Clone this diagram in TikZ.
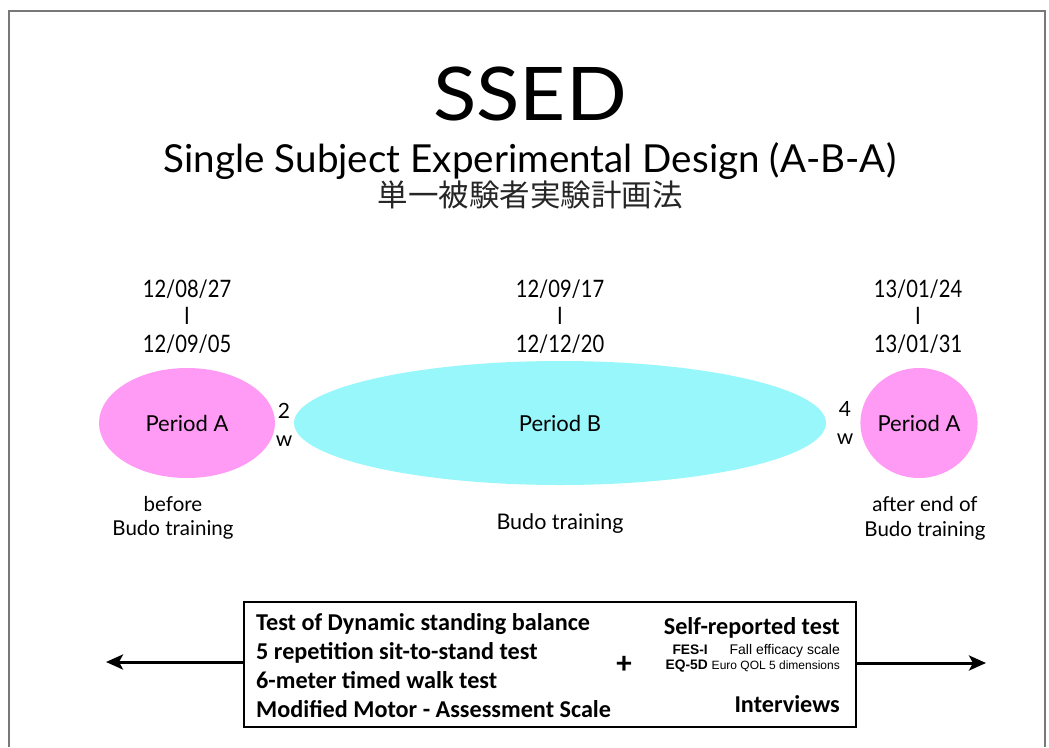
\documentclass[tikz,border=0pt]{standalone}
\usepackage{fontspec}
\setmainfont{Lato}
\newfontfamily\jpfont{Noto Sans CJK JP}
\newfontfamily\calfont{Carlito}
\newfontfamily\arialfont{Liberation Sans}
\newfontfamily\narrowfont[FakeStretch=0.84]{Lato}
\newfontfamily\widefont[FakeStretch=1.08]{Lato}
\usetikzlibrary{shapes.geometric,arrows.meta}
\definecolor{periodA}{RGB}{255,155,245}
\definecolor{periodB}{RGB}{152,247,250}
\definecolor{framegray}{RGB}{120,120,120}

\begin{document}
\begin{tikzpicture}[x=1pt,y=-1pt,
  txt/.style={inner sep=0pt, anchor=base},
  datetxt/.style={txt, font=\narrowfont\fontsize{24}{24}\selectfont},
  phase/.style={ellipse, inner sep=0pt, font=\fontsize{22}{22}\selectfont},
  gaptxt/.style={txt, font=\fontsize{21}{21}\selectfont},
  notetxt/.style={txt, font=\fontsize{20.5}{20.5}\selectfont},
  testtxt/.style={txt, anchor=base west, font=\calfont\bfseries\fontsize{24.2}{24.2}\selectfont},
  righttxt/.style={txt, anchor=base east, font=\calfont\bfseries\fontsize{24.2}{24.2}\selectfont},
  smallbold/.style={txt, anchor=base east, font=\arialfont\bfseries\fontsize{13.8}{13.8}\selectfont},
  smalltxt/.style={txt, anchor=base east, font=\arialfont\fontsize{14}{14}\selectfont},
  arrowline/.style={line width=3pt, -{Stealth[length=17pt,width=15pt,inset=4pt]}}
]
\useasboundingbox (0,0) rectangle (1049,747);

% page frame, open at the bottom
\draw[framegray, line width=1.3pt] (9,747) -- (9,11) -- (1045,11) -- (1045,747);

% titles
\node[txt] (title) at (530,120) {\widefont\fontsize{74}{74}\selectfont SSED};
\node[txt] (subtitle) at (530,172) {\fontsize{38.6}{38.6}\selectfont Single Subject Experimental Design (A-B-A)};
\node[inner sep=0pt, text=black!85] (jp) at (530,195) {\jpfont\fontsize{30.5}{30.5}\selectfont 単一被験者実験計画法};

% date ranges
\node[datetxt] (d1a) at (187,297) {12/08/27};
\node[datetxt] (d1b) at (187,324) {I};
\node[datetxt] (d1c) at (187,352) {12/09/05};
\node[datetxt] (d2a) at (560,297) {12/09/17};
\node[datetxt] (d2b) at (560,324) {I};
\node[datetxt] (d2c) at (560,352) {12/12/20};
\node[datetxt] (d3a) at (918,297) {13/01/24};
\node[datetxt] (d3b) at (918,324) {I};
\node[datetxt] (d3c) at (918,352) {13/01/31};

% periods
\node[phase, fill=periodA, minimum width=176pt, minimum height=110pt] (pa1) at (187,423) {Period A};
\node[phase, fill=periodB, minimum width=532pt, minimum height=124pt] (pb) at (560,423) {Period B};
\node[phase, fill=periodA, minimum width=104pt, minimum height=110pt] (pa2) at (919,423) {Period A};

% gaps between periods
\node[gaptxt] (g1n) at (284,418) {2};
\node[gaptxt] (g1w) at (284,446) {w};
\node[gaptxt] (g2n) at (845,416) {4};
\node[gaptxt] (g2w) at (845,444) {w};

% descriptions under the periods
\node[notetxt] (n1a) at (173,511) {before};
\node[notetxt] (n1b) at (173,535) {Budo training};
\node[notetxt, font=\fontsize{21.5}{21.5}\selectfont] (n2) at (560,529) {Budo training};
\node[notetxt] (n3a) at (925,511) {after end of};
\node[notetxt] (n3b) at (925,536) {Budo training};

% measurement box
\node[draw, line width=1.8pt, minimum width=612pt, minimum height=125pt, inner sep=0pt] (box) at (550,664.5) {};
\node[testtxt] (t1) at (256,630) {Test of Dynamic standing balance};
\node[testtxt] (t2) at (256,659) {5 repetition sit-to-stand test};
\node[testtxt] (t3) at (256,688) {6-meter timed walk test};
\node[testtxt] (t4) at (256,717) {Modified Motor - Assessment Scale};
\node[inner sep=0pt, font=\calfont\bfseries\fontsize{31}{31}\selectfont] (plus) at (624,665) {+};
\node[righttxt] (s1) at (840,634) {Self-reported test};
\node[smalltxt] (s2) at (840,654) {Fall efficacy scale};
\node[smallbold] (s2b) at (708,654) {FES-I};
\node[smalltxt, font=\arialfont\fontsize{12}{12}\selectfont] (s3) at (840,669) {Euro QOL 5 dimensions};
\node[smallbold] (s3b) at (708,669) {EQ-5D};
\node[righttxt] (s4) at (840,712) {Interviews};

% time arrows
\coordinate (leftend) at (106,662);
\coordinate (rightend) at (986,663);
\draw[arrowline] (box.west |- leftend) -- (leftend);
\draw[arrowline] (box.east |- rightend) -- (rightend);
\end{tikzpicture}
\end{document}
